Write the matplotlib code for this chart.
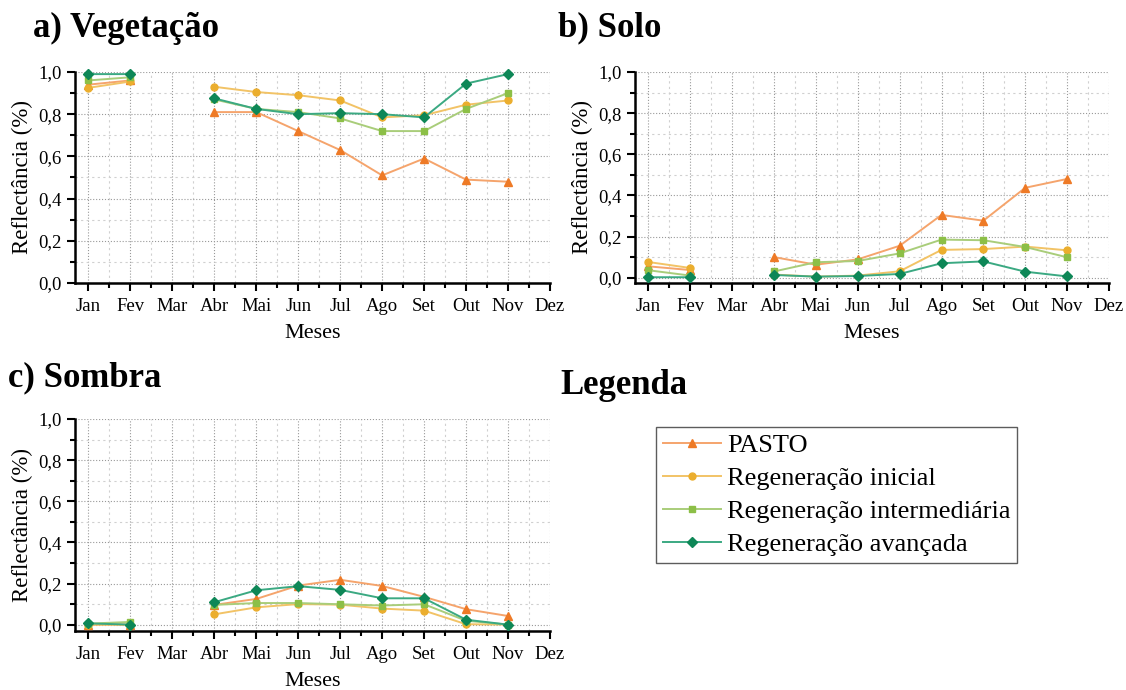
import numpy as np
import matplotlib
matplotlib.use('Agg')
import matplotlib.pyplot as plt
from matplotlib.ticker import MultipleLocator, FuncFormatter
from matplotlib.lines import Line2D

plt.rcParams['font.family'] = ['Liberation Serif', 'DejaVu Serif']

# Months and series (Mar has no data)
meses = ['Jan', 'Fev', 'Mar', 'Abr', 'Mai', 'Jun', 'Jul', 'Ago', 'Set', 'Out', 'Nov', 'Dez']
nan = np.nan

# a) Vegetação
veg_pasto = [0.94, 0.96, nan, 0.81, 0.81, 0.72, 0.63, 0.51, 0.59, 0.49, 0.48]
veg_inicial = [0.925, 0.955, nan, 0.93, 0.905, 0.89, 0.865, 0.785, 0.795, 0.845, 0.865]
veg_inter = [0.96, 0.975, nan, 0.87, 0.825, 0.81, 0.78, 0.72, 0.72, 0.825, 0.90]
veg_avanc = [0.99, 0.99, nan, 0.875, 0.825, 0.80, 0.805, 0.80, 0.785, 0.945, 0.99]

# b) Solo
solo_pasto = [0.055, 0.037, nan, 0.10, 0.063, 0.089, 0.155, 0.305, 0.277, 0.437, 0.48]
solo_inicial = [0.076, 0.047, nan, 0.015, 0.005, 0.01, 0.031, 0.135, 0.139, 0.151, 0.133]
solo_inter = [0.036, 0.01, nan, 0.03, 0.075, 0.081, 0.118, 0.185, 0.182, 0.149, 0.099]
solo_avanc = [0.002, 0.002, nan, 0.013, 0.005, 0.008, 0.018, 0.07, 0.079, 0.029, 0.006]

# c) Sombra
somb_pasto = [0.0, 0.0, nan, 0.096, 0.125, 0.19, 0.218, 0.188, 0.135, 0.075, 0.042]
somb_inicial = [0.0, 0.0, nan, 0.05, 0.084, 0.10, 0.097, 0.078, 0.068, 0.002, 0.0]
somb_inter = [0.005, 0.013, nan, 0.096, 0.105, 0.105, 0.099, 0.093, 0.099, 0.019, 0.0]
somb_avanc = [0.006, 0.0, nan, 0.109, 0.167, 0.187, 0.169, 0.128, 0.128, 0.024, 0.0]

labels = ['PASTO', 'Regeneração inicial', 'Regeneração intermediária', 'Regeneração avançada']
line_colors = ['#F5A46C', '#F2C366', '#A9CD7A', '#3BA982']
marker_colors = ['#EE7A26', '#EBAE2E', '#8CBF47', '#0E8757']
markers = ['^', 'o', 's', 'D']
msizes = [6, 5, 5, 5]

fig = plt.figure(figsize=(11.26, 6.9), dpi=100)
W, H = 1126.0, 690.0


def make_axes(left, top, right, bottom):
    return fig.add_axes([left / W, 1 - bottom / H, (right - left) / W, (bottom - top) / H])


def style_axes(ax, ymin):
    x = np.arange(len(meses))
    ax.set_xlim(-0.32, 11.0)
    ax.set_ylim(ymin, 1.0)
    ax.set_xticks(x)
    ax.set_xticklabels(meses, fontsize=13.5)
    ax.xaxis.set_minor_locator(MultipleLocator(0.5))
    ax.yaxis.set_major_locator(MultipleLocator(0.2))
    ax.yaxis.set_minor_locator(MultipleLocator(0.1))
    ax.yaxis.set_major_formatter(FuncFormatter(lambda v, p: ('%.1f' % v).replace('.', ',')))
    ax.tick_params(axis='y', labelsize=13.5)
    ax.tick_params(which='major', direction='out', length=6, width=1.5)
    ax.tick_params(which='minor', direction='out', length=3.5, width=1.5)
    ax.tick_params(axis='x', which='major', pad=5)
    for s in ['top', 'right']:
        ax.spines[s].set_visible(False)
    for s in ['left', 'bottom']:
        ax.spines[s].set_linewidth(1.8)
    ax.grid(True, which='major', linestyle=':', color='#999999', linewidth=0.8)
    ax.grid(True, which='minor', linestyle=(0, (2, 3)), color='#d0d0d0', linewidth=0.8)
    ax.set_axisbelow(True)
    ax.set_xlabel('Meses', fontsize=16, labelpad=6)
    ax.set_ylabel('Reflectância (%)', fontsize=16.5, labelpad=4)


def plot_series(ax, series):
    x = np.arange(len(series[0]))
    for i, vals in enumerate(series):
        ax.plot(x, vals, color=line_colors[i], linewidth=1.4, marker=markers[i],
                markersize=msizes[i], markerfacecolor=marker_colors[i],
                markeredgecolor=marker_colors[i], clip_on=False, zorder=3 + i)


ax_a = make_axes(75, 72, 550, 283)
plot_series(ax_a, [veg_pasto, veg_inicial, veg_inter, veg_avanc])
style_axes(ax_a, 0.0)

ax_b = make_axes(635, 72, 1109, 283)
plot_series(ax_b, [solo_pasto, solo_inicial, solo_inter, solo_avanc])
style_axes(ax_b, -0.026)

ax_c = make_axes(75, 419, 550, 631)
plot_series(ax_c, [somb_pasto, somb_inicial, somb_inter, somb_avanc])
style_axes(ax_c, -0.031)

# Panel titles
fig.text(33 / W, 1 - 28 / H, 'a) Vegetação', fontsize=25, fontweight='bold', va='center')
fig.text(558 / W, 1 - 28 / H, 'b) Solo', fontsize=25, fontweight='bold', va='center')
fig.text(8 / W, 1 - 378 / H, 'c) Sombra', fontsize=25, fontweight='bold', va='center')
fig.text(560 / W, 1 - 385 / H, 'Legenda', fontsize=25, fontweight='bold', va='center')

# Legend
handles = [Line2D([0], [0], color=line_colors[i], linewidth=1.4, marker=markers[i],
                  markersize=msizes[i], markerfacecolor=marker_colors[i],
                  markeredgecolor=marker_colors[i]) for i in range(4)]
leg = fig.legend(handles, labels, loc='upper left', bbox_to_anchor=(656 / W, 1 - 427 / H),
                 fontsize=19, frameon=True, fancybox=False, handlelength=2.2,
                 handletextpad=0.25, labelspacing=0.36, borderpad=0.25, borderaxespad=0)
leg.get_frame().set_edgecolor('#333333')
leg.get_frame().set_linewidth(1.0)

fig.savefig('out.png', dpi=100)
